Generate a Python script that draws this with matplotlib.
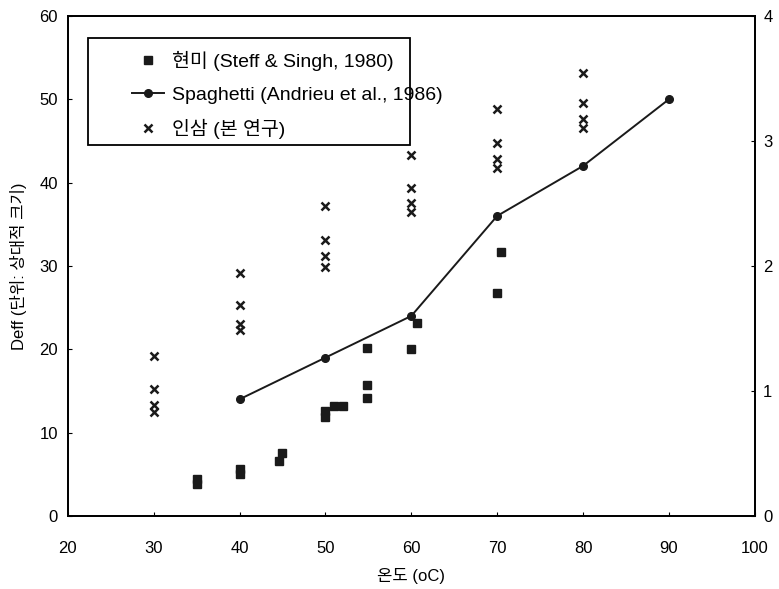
import numpy as np
import matplotlib.pyplot as plt
from matplotlib.patches import Rectangle

plt.rcParams['font.family'] = ['Liberation Sans', 'Noto Sans CJK KR']

# 현미 (Steff & Singh, 1980)
rice_t = [35.0, 35.0, 40.0, 40.0, 44.6, 45.0, 50.0, 50.0, 51.0, 52.0,
          54.8, 54.8, 54.8, 60.0, 60.7, 70.0, 70.5]
rice_d = [4.4, 3.8, 5.6, 5.0, 6.6, 7.5, 12.6, 11.9, 13.2, 13.2,
          20.1, 15.7, 14.1, 20.0, 23.2, 26.7, 31.7]

# Spaghetti (Andrieu et al., 1986)
spag_t = [40, 50, 60, 70, 80, 90]
spag_d = [14, 19, 24, 36, 42, 50]

# 인삼 (본 연구)
gin_t = [30, 30, 30, 30, 40, 40, 40, 40, 50, 50, 50, 50,
         60, 60, 60, 60, 70, 70, 70, 70, 80, 80, 80, 80]
gin_d = [19.2, 15.2, 13.3, 12.5, 29.2, 25.3, 23.0, 22.3, 37.2, 33.1, 31.2, 29.9,
         43.3, 39.4, 37.6, 36.5, 48.8, 44.8, 42.8, 41.7, 53.2, 49.5, 47.6, 46.6]

fig = plt.figure(figsize=(7.79, 5.89), dpi=100)
ax = fig.add_axes([0.087, 0.124, 0.882, 0.849])

ax.plot(rice_t, rice_d, linestyle='none', marker='s', markersize=5.5,
        color='#1a1a1a', label='현미 (Steff & Singh, 1980)')
ax.plot(spag_t, spag_d, color='#1a1a1a', linewidth=1.4, marker='o',
        markersize=5.5, label='Spaghetti (Andrieu et al., 1986)')
ax.plot(gin_t, gin_d, linestyle='none', marker='x', markersize=5.5,
        markeredgewidth=1.8, color='#1a1a1a', label='인삼 (본 연구)')

ax.set_xlim(20, 100)
ax.set_ylim(0, 60)
ax.set_xticks(np.arange(20, 101, 10))
ax.set_yticks(np.arange(0, 61, 10))
ax.tick_params(direction='in', length=3, labelsize=12)
ax.tick_params(axis='x', pad=18)
ax.tick_params(axis='y', pad=7)
ax.set_xlabel('온도 (oC)', fontsize=12, labelpad=9)
ax.set_ylabel('Deff (단위: 상대적 크기)', fontsize=12, labelpad=9)

ax2 = ax.twinx()
ax2.set_ylim(0, 4)
ax2.set_yticks([0, 1, 2, 3, 4])
ax2.tick_params(direction='in', length=3, labelsize=12, pad=6)

for a in (ax, ax2):
    for s in a.spines.values():
        s.set_linewidth(1.3)

# legend box drawn by hand, the text runs past its right edge as in the original
box = Rectangle((0.029, 0.742), 0.469, 0.214, transform=ax.transAxes,
                facecolor='white', edgecolor='black', linewidth=1.3, zorder=3)
ax.add_patch(box)
leg = ax.legend(loc='upper left', bbox_to_anchor=(0.094, 0.93), fontsize=14,
                frameon=False, borderpad=0, borderaxespad=0,
                handlelength=1.65, handletextpad=0.4, labelspacing=0.77)
leg.set_zorder(4)

fig.savefig('out.png', dpi=100)
